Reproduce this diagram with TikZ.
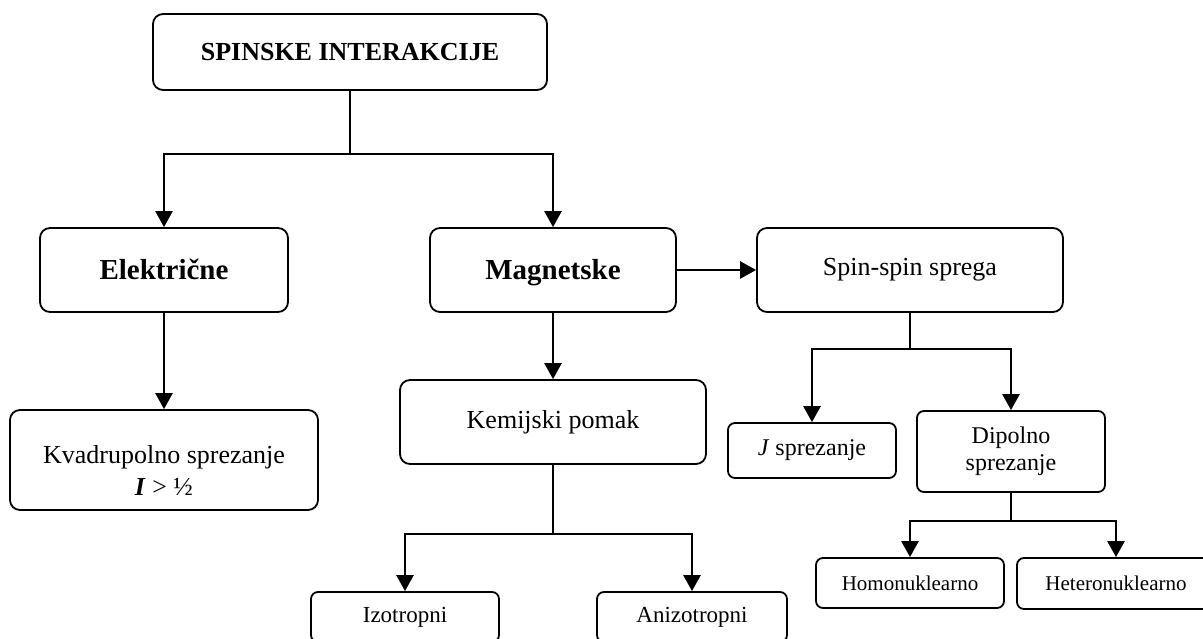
\documentclass[tikz,border=0pt]{standalone}
\usepackage{fontspec}
\setmainfont{Liberation Serif}
\usetikzlibrary{arrows.meta}
\begin{document}
\begin{tikzpicture}[x=1pt,y=-1pt,
  box/.style={draw, line width=1.8pt, rounded corners=10pt, inner sep=0pt, align=center},
  sbox/.style={box, rounded corners=7pt},
  one/.style={text height=26pt, text depth=7pt},
  arr/.style={line width=2.6pt, -{Triangle[width=17pt,length=16pt]}},
  ln/.style={line width=1.8pt}]
\useasboundingbox (0,0) rectangle (1203,639);
\clip (0,0) rectangle (1203,639);
\node[box, minimum width=394pt, minimum height=76pt, font=\fontsize{26}{30}\selectfont\bfseries] (top) at (350,52) {SPINSKE INTERAKCIJE};
\node[box, one, minimum width=248pt, minimum height=84pt, font=\fontsize{29}{33}\selectfont\bfseries] (elec) at (164,270) {Električne};
\node[box, one, minimum width=246pt, minimum height=84pt, font=\fontsize{29}{33}\selectfont\bfseries] (mag) at (553,270) {Magnetske};
\node[box, minimum width=306pt, minimum height=84pt, font=\fontsize{26}{30}\selectfont] (spin) at (910,270) {Spin-spin sprega};
\node[box, minimum width=308pt, minimum height=100pt, font=\fontsize{26}{32}\selectfont] (kvad) at (164,460) {\rule{0pt}{38pt}Kvadrupolno sprezanje\\\textbf{\textit{I}} > ½};
\node[box, minimum width=306pt, minimum height=84pt, font=\fontsize{26}{30}\selectfont] (kem) at (553,422) {Kemijski pomak};
\node[sbox, minimum width=168pt, minimum height=55pt, font=\fontsize{24}{28}\selectfont] (jsp) at (812,450.5) {\textit{J} sprezanje};
\node[sbox, minimum width=188pt, minimum height=81pt, font=\fontsize{24}{27}\selectfont] (dip) at (1011,451.5) {Dipolno\\sprezanje};
\node[sbox, minimum width=188pt, minimum height=50pt, font=\fontsize{21}{25}\selectfont] (homo) at (910,583) {Homonuklearno};
\node[sbox, minimum width=198pt, minimum height=51pt, font=\fontsize{21}{25}\selectfont] (hetero) at (1116,583.5) {Heteronuklearno};
\node[sbox, minimum width=188pt, minimum height=50pt, font=\fontsize{23}{27}\selectfont] (izo) at (405,617) {Izotropni};
\node[sbox, minimum width=190pt, minimum height=50pt, font=\fontsize{23}{27}\selectfont] (ani) at (692,617) {Anizotropni};
% connectors
\draw[ln] (top.south) -- ++(0,63) coordinate (j1);
\draw[arr] (j1) -| (elec.north);
\draw[arr] (j1) -| (mag.north);
\draw[arr] (elec.south) -- (kvad.north);
\draw[arr] (mag.east) -- (spin.west);
\draw[arr] (mag.south) -- (kem.north);
\draw[ln] (kem.south) -- ++(0,69) coordinate (j2);
\draw[arr] (j2) -| (izo.north);
\draw[arr] (j2) -| (ani.north);
\draw[ln] (spin.south) -- ++(0,36) coordinate (j3);
\draw[arr] (j3) -| (jsp.north);
\draw[arr] (j3) -| (dip.north);
\draw[ln] (dip.south) -- ++(0,28) coordinate (j4);
\draw[arr] (j4) -| (homo.north);
\draw[arr] (j4) -| (hetero.north);
\end{tikzpicture}
\end{document}
